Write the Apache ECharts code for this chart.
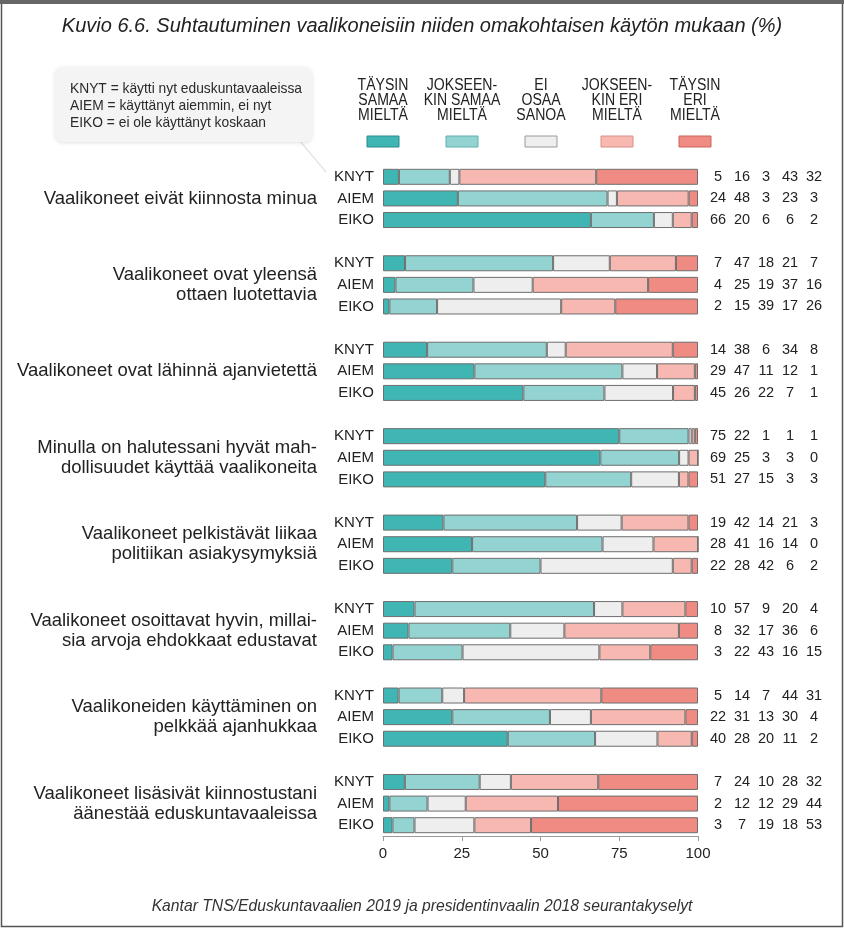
<!DOCTYPE html>
<html>
<head>
<meta charset="utf-8">
<script src="https://cdn.jsdelivr.net/npm/echarts@6/dist/echarts.min.js"></script>
<style>
  html, body { margin: 0; padding: 0; background: #fff; }
  #main { width: 844px; height: 928px; }
</style>
</head>
<body>
<div id="main"></div>
<script>
// kysymykset (väittämät)
var statements = [
  'Vaalikoneet eivät kiinnosta minua',
  'Vaalikoneet ovat yleensä\nottaen luotettavia',
  'Vaalikoneet ovat lähinnä ajanvietettä',
  'Minulla on halutessani hyvät mah-\ndollisuudet käyttää vaalikoneita',
  'Vaalikoneet pelkistävät liikaa\npolitiikan asiakysymyksiä',
  'Vaalikoneet osoittavat hyvin, millai-\nsia arvoja ehdokkaat edustavat',
  'Vaalikoneiden käyttäminen on\npelkkää ajanhukkaa',
  'Vaalikoneet lisäsivät kiinnostustani\näänestää eduskuntavaaleissa'
]
var userGroups = ['KNYT', 'AIEM', 'EIKO']
var answers = ['TÄYSIN\nSAMAA\nMIELTÄ', 'JOKSEEN-\nKIN SAMAA\nMIELTÄ', 'EI\nOSAA\nSANOA', 'JOKSEEN-\nKIN ERI\nMIELTÄ', 'TÄYSIN\nERI\nMIELTÄ']

// rivit järjestyksessä: väittämä 1 KNYT, AIEM, EIKO, väittämä 2 ...
var taysinSamaa     = [5, 24, 66, 7, 4, 2, 14, 29, 45, 75, 69, 51, 19, 28, 22, 10, 8, 3, 5, 22, 40, 7, 2, 3]
var jokseenkinSamaa = [16, 48, 20, 47, 25, 15, 38, 47, 26, 22, 25, 27, 42, 41, 28, 57, 32, 22, 14, 31, 28, 24, 12, 7]
var eiOsaaSanoa     = [3, 3, 6, 18, 19, 39, 6, 11, 22, 1, 3, 15, 14, 16, 42, 9, 17, 43, 7, 13, 20, 10, 12, 19]
var jokseenkinEri   = [43, 23, 6, 21, 37, 17, 34, 12, 7, 1, 3, 3, 21, 14, 6, 20, 36, 16, 44, 30, 11, 28, 29, 18]
var taysinEri       = [32, 3, 2, 7, 16, 26, 8, 1, 1, 1, 0, 3, 3, 0, 2, 4, 6, 15, 31, 4, 2, 32, 44, 53]

var xMin = 0
var xMax = 100
var xStep = 25

var series5 = [taysinSamaa, jokseenkinSamaa, eiOsaaSanoa, jokseenkinEri, taysinEri]
var colors = ['#3fb6b3', '#93d3d1', '#eeeeee', '#f6b8b0', '#ef8b82']
var strokes = ['#2a8d8a', '#5fb0ad', '#9a9a9a', '#d98f86', '#c9645b']
var legendX = [383, 462, 541, 617, 695]

var FONT = "'Liberation Sans', Arial, sans-serif"

// kategoria-akseli: 3 riviä + tyhjä väli jokaisen väittämän jälkeen
var yCats = []
statements.forEach(function(s, g) {
  userGroups.forEach(function(u) { yCats.push(u) })
  if (g < statements.length - 1) yCats.push('')
})
function rowOf(i) {
  return i % 4 === 3 ? -1 : Math.floor(i / 4) * 3 + (i % 4)
}
function rowTotal(r) {
  return series5.reduce(function(a, s) { return a + s[r] }, 0)
}

var chart = echarts.init(document.getElementById('main'))

var graphic = [
  { type: 'rect', shape: { x: 1.5, y: 1.5, width: 841, height: 925 }, style: { fill: 'none', stroke: '#555', lineWidth: 1.5 }, silent: true },
  { type: 'rect', shape: { x: 0, y: 0, width: 844, height: 4 }, style: { fill: '#666' }, silent: true },
  { type: 'line', shape: { x1: 300, y1: 141, x2: 326, y2: 172 }, style: { stroke: '#e6e6e6', lineWidth: 1.5 }, silent: true },
  {
    type: 'rect', shape: { x: 55, y: 67, width: 257, height: 75, r: 8 },
    style: { fill: '#f4f4f4', shadowBlur: 4, shadowColor: 'rgba(0,0,0,0.12)', shadowOffsetY: 1 }, silent: true
  },
  {
    // kapeutettu teksti (ei kapeaa fonttia saatavilla)
    type: 'text', silent: true, x: 70, y: 80, scaleX: 0.92,
    style: {
      text: 'KNYT = käytti nyt eduskuntavaaleissa\nAIEM = käyttänyt aiemmin, ei nyt\nEIKO = ei ole käyttänyt koskaan',
      x: 0, y: 0, fontFamily: FONT, fontSize: 15, lineHeight: 17, fill: '#2a2a2a', textVerticalAlign: 'top'
    }
  }
]
answers.forEach(function(a, k) {
  graphic.push({
    type: 'text', silent: true, x: legendX[k], y: 78, scaleX: 0.88,
    style: {
      text: a, x: 0, y: 0, textAlign: 'center', textVerticalAlign: 'top',
      fontFamily: FONT, fontSize: 16, lineHeight: 15, fill: '#222'
    }
  })
  graphic.push({
    type: 'rect', silent: true,
    shape: { x: legendX[k] - 16, y: 136, width: 32, height: 11 },
    style: { fill: colors[k], stroke: strokes[k], lineWidth: 1 }
  })
})

chart.setOption({
  animation: false,
  backgroundColor: '#fff',
  title: [
    {
      text: 'Kuvio 6.6. Suhtautuminen vaalikoneisiin niiden omakohtaisen käytön mukaan (%)',
      left: 'center', top: 11,
      textStyle: { fontFamily: FONT, fontStyle: 'italic', fontWeight: 'normal', fontSize: 20, color: '#222' }
    },
    {
      text: 'Kantar TNS/Eduskuntavaalien 2019 ja presidentinvaalin 2018 seurantakyselyt',
      left: 'center', top: 894,
      textStyle: { fontFamily: FONT, fontStyle: 'italic', fontWeight: 'normal', fontSize: 15.7, color: '#333' }
    }
  ],
  graphic: graphic,
  grid: { left: 383, right: 146, top: 166, height: 670 },
  xAxis: {
    type: 'value', min: xMin, max: xMax, interval: xStep,
    splitLine: { show: false },
    axisLine: { show: true, lineStyle: { color: '#999' } },
    axisTick: { show: true, length: 5, lineStyle: { color: '#999' } },
    axisLabel: { fontFamily: FONT, fontSize: 15, color: '#222', margin: 10 }
  },
  yAxis: [
    {
      type: 'category', inverse: true, data: yCats,
      axisLine: { show: false }, axisTick: { show: false },
      axisLabel: { interval: 0, margin: 9, fontFamily: FONT, fontSize: 15, color: '#222' }
    },
    {
      type: 'category', inverse: true, data: yCats, position: 'left',
      axisLine: { show: false }, axisTick: { show: false },
      axisLabel: {
        interval: 0, margin: 66, fontFamily: FONT, fontSize: 18.5, lineHeight: 20, color: '#222',
        formatter: function(v, i) { return i % 4 === 1 ? statements[Math.floor(i / 4)] : '' }
      }
    },
    {
      type: 'category', inverse: true, data: yCats, position: 'right',
      axisLine: { show: false }, axisTick: { show: false },
      axisLabel: {
        interval: 0, margin: 8,
        formatter: function(v, i) {
          var r = rowOf(i)
          if (r < 0) return ''
          return ['a', 'b', 'c', 'd', 'e'].map(function(key, k) {
            return '{' + key + '|' + series5[k][r] + '}'
          }).join('')
        },
        rich: {
          a: { width: 24, align: 'center', fontFamily: FONT, fontSize: 14.5, color: '#222' },
          b: { width: 24, align: 'center', fontFamily: FONT, fontSize: 14.5, color: '#222' },
          c: { width: 24, align: 'center', fontFamily: FONT, fontSize: 14.5, color: '#222' },
          d: { width: 24, align: 'center', fontFamily: FONT, fontSize: 14.5, color: '#222' },
          e: { width: 24, align: 'center', fontFamily: FONT, fontSize: 14.5, color: '#222' }
        }
      }
    }
  ],
  series: series5.map(function(s, k) {
    return {
      type: 'bar', stack: 'all', barWidth: 16,
      name: answers[k].replace(/\n/g, ' '),
      itemStyle: { color: colors[k], borderColor: '#6e6e6e', borderWidth: 1 },
      data: yCats.map(function(c, i) {
        var r = rowOf(i)
        return r < 0 ? '-' : s[r] / rowTotal(r) * 100
      })
    }
  })
})
</script>
</body>
</html>
